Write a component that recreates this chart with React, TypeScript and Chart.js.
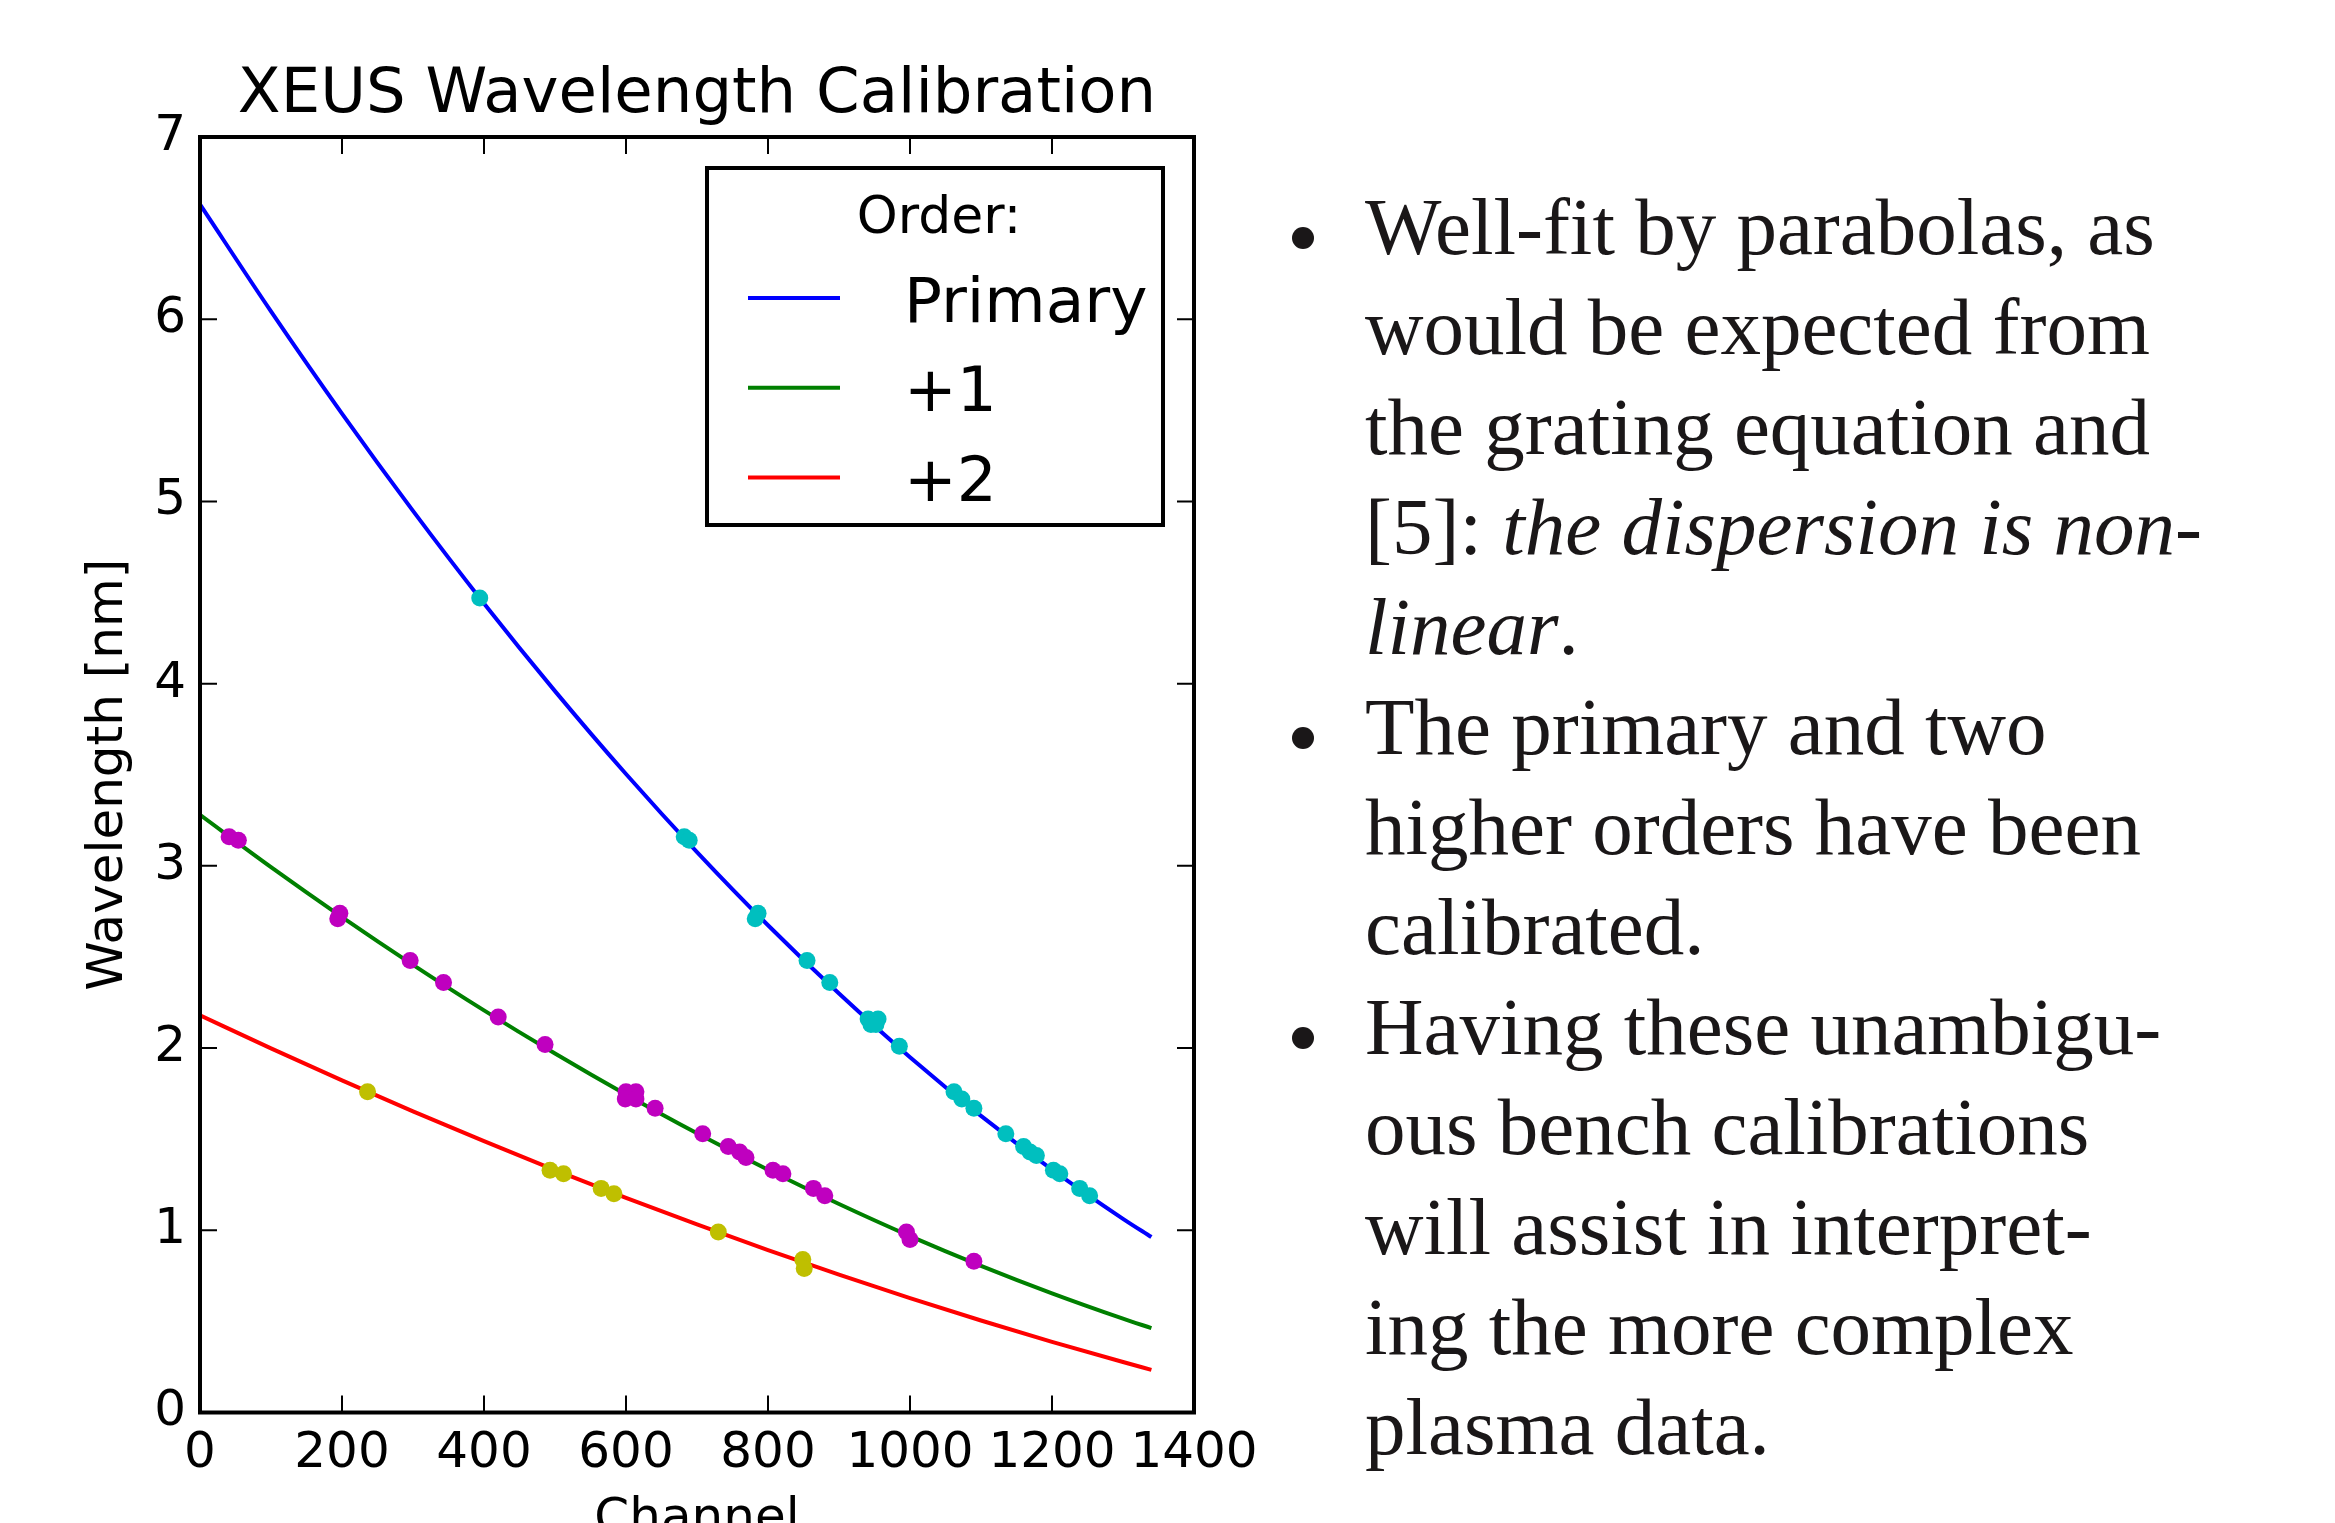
import React, { useEffect, useRef } from "react";
import { Chart, registerables } from "chart.js";

Chart.register(...registerables);

// ---------- data ----------
const chartTitle = "XEUS Wavelength Calibration";
const xAxisTitle = "Channel";
const yAxisTitle = "Wavelength [nm]";
const legendTitle = "Order:";

const xTickValues = [0, 200, 400, 600, 800, 1000, 1200, 1400];
const yTickValues = [0, 1, 2, 3, 4, 5, 6, 7];

// fitted curves, sampled along the channel axis
const curveChannels = [0, 100, 200, 300, 400, 500, 600, 700, 800, 900, 1000, 1100, 1200, 1300, 1340];
const primaryCurve = [6.63, 6.043, 5.482, 4.948, 4.44, 3.959, 3.504, 3.076, 2.674, 2.299, 1.95, 1.628, 1.333, 1.063, 0.963];
const plusOneCurve = [3.28, 2.993, 2.719, 2.457, 2.207, 1.97, 1.745, 1.532, 1.332, 1.144, 0.968, 0.805, 0.654, 0.515, 0.463];
const plusTwoCurve = [2.18, 1.998, 1.823, 1.653, 1.489, 1.33, 1.178, 1.032, 0.891, 0.757, 0.628, 0.505, 0.388, 0.277, 0.234];

// measured calibration lines
const primaryChannels = [394, 682, 689, 786, 782, 855, 887, 941, 955, 945, 952, 985, 1062, 1073, 1090, 1135, 1160, 1169, 1178, 1202, 1211, 1239, 1253];
const primaryWavelengths = [4.47, 3.16, 3.14, 2.74, 2.71, 2.48, 2.36, 2.16, 2.16, 2.13, 2.13, 2.01, 1.76, 1.72, 1.67, 1.53, 1.46, 1.43, 1.41, 1.33, 1.31, 1.23, 1.19];

const plusOneChannels = [41, 54, 197, 194, 296, 343, 420, 486, 600, 614, 599, 614, 641, 708, 744, 760, 769, 807, 821, 864, 880, 995, 1000, 1090];
const plusOneWavelengths = [3.16, 3.14, 2.74, 2.71, 2.48, 2.36, 2.17, 2.02, 1.76, 1.76, 1.72, 1.72, 1.67, 1.53, 1.46, 1.43, 1.4, 1.33, 1.31, 1.23, 1.19, 0.99, 0.95, 0.83];

const plusTwoChannels = [236, 493, 512, 565, 583, 730, 849, 851];
const plusTwoWavelengths = [1.76, 1.33, 1.31, 1.23, 1.2, 0.99, 0.84, 0.79];

const seriesLabels = ["Primary", "+1", "+2"];

// ---------- slide text ----------
type Part = { t: string; i?: boolean };
type Line = { bullet?: boolean; parts: Part[] };
const textLines: Line[] = [
  { bullet: true, parts: [{ t: "Well-fit by parabolas, as" }] },
  { parts: [{ t: "would be expected from" }] },
  { parts: [{ t: "the grating equation and" }] },
  { parts: [{ t: "[5]: " }, { t: "the dispersion is non-", i: true }] },
  { parts: [{ t: "linear", i: true }, { t: "." }] },
  { bullet: true, parts: [{ t: "The primary and two" }] },
  { parts: [{ t: "higher orders have been" }] },
  { parts: [{ t: "calibrated." }] },
  { bullet: true, parts: [{ t: "Having these unambigu-" }] },
  { parts: [{ t: "ous bench calibrations" }] },
  { parts: [{ t: "will assist in interpret-" }] },
  { parts: [{ t: "ing the more complex" }] },
  { parts: [{ t: "plasma data." }] },
];

const FONT = "'DejaVu Sans'";

const framePlugin = {
  id: "mplFrame",
  afterDatasetsDraw(chart: any) {
    const { ctx, chartArea: a, scales } = chart;
    const tl = 17;
    ctx.save();
    ctx.strokeStyle = "#000";
    ctx.lineWidth = 2;
    ctx.beginPath();
    scales.x.ticks.forEach((t: any) => {
      const px = scales.x.getPixelForValue(t.value);
      ctx.moveTo(px, a.bottom);
      ctx.lineTo(px, a.bottom - tl);
      ctx.moveTo(px, a.top);
      ctx.lineTo(px, a.top + tl);
    });
    scales.y.ticks.forEach((t: any) => {
      const py = scales.y.getPixelForValue(t.value);
      ctx.moveTo(a.left, py);
      ctx.lineTo(a.left + tl, py);
      ctx.moveTo(a.right, py);
      ctx.lineTo(a.right - tl, py);
    });
    ctx.stroke();
    ctx.lineWidth = 4;
    ctx.strokeRect(a.left, a.top, a.right - a.left, a.bottom - a.top);
    ctx.restore();
  },
};

const legendPlugin = {
  id: "orderLegend",
  afterDraw(chart: any) {
    const { ctx, chartArea: a } = chart;
    const w = 456;
    const h = 357;
    const left = a.right - 31 - w;
    const top = a.top + 31;
    ctx.save();
    ctx.fillStyle = "#fff";
    ctx.fillRect(left, top, w, h);
    ctx.lineWidth = 4;
    ctx.strokeStyle = "#000";
    ctx.strokeRect(left, top, w, h);
    ctx.fillStyle = "#000";
    ctx.textAlign = "center";
    ctx.textBaseline = "alphabetic";
    ctx.font = `52px ${FONT}`;
    ctx.fillText(legendTitle, left + 232, top + 64.5);
    const items = chart.data.datasets.filter((d: any) => d.type === "line");
    items.forEach((d: any, i: number) => {
      const y = top + 130 + i * 89.7;
      ctx.strokeStyle = d.borderColor;
      ctx.lineWidth = 4;
      ctx.beginPath();
      ctx.moveTo(left + 41, y);
      ctx.lineTo(left + 133, y);
      ctx.stroke();
      ctx.font = `63px ${FONT}`;
      ctx.textAlign = "left";
      ctx.fillStyle = "#000";
      ctx.fillText(d.label, left + 197, y + 23.5);
    });
    ctx.restore();
  },
};

function scatterSet(label: string, xs: number[], ys: number[], color: string) {
  return {
    type: "scatter" as const,
    label,
    data: xs.map((x, i) => ({ x, y: ys[i] })),
    backgroundColor: color,
    borderColor: color,
    borderWidth: 0,
    pointRadius: 8.5,
    pointHoverRadius: 8.5,
    showLine: false,
  };
}

function lineSet(label: string, ys: number[], color: string) {
  return {
    type: "line" as const,
    label,
    data: curveChannels.map((x, i) => ({ x, y: ys[i] })),
    borderColor: color,
    backgroundColor: color,
    borderWidth: 4,
    pointRadius: 0,
    pointHoverRadius: 0,
    cubicInterpolationMode: "monotone" as const,
    fill: false,
  };
}

export default function App() {
  const ref = useRef<HTMLCanvasElement>(null);

  useEffect(() => {
    document.body.style.margin = "0";
    document.body.style.overflow = "hidden";
    const canvas = ref.current!;
    Chart.defaults.font.family = FONT;
    Chart.defaults.color = "#000";
    const chart = new Chart(canvas, {
      type: "scatter",
      data: {
        datasets: [
          scatterSet("primary lines", primaryChannels, primaryWavelengths, "#00BFBF"),
          scatterSet("+1 lines", plusOneChannels, plusOneWavelengths, "#BF00BF"),
          scatterSet("+2 lines", plusTwoChannels, plusTwoWavelengths, "#BFBF00"),
          lineSet(seriesLabels[0], primaryCurve, "#0000FF"),
          lineSet(seriesLabels[1], plusOneCurve, "#008000"),
          lineSet(seriesLabels[2], plusTwoCurve, "#FF0000"),
        ] as any,
      },
      options: {
        responsive: false,
        animation: false,
        devicePixelRatio: 1,
        events: [],
        layout: { padding: 0 },
        plugins: {
          legend: { display: false },
          tooltip: { enabled: false },
          title: {
            display: true,
            text: chartTitle,
            color: "#000",
            font: { family: FONT, size: 62.5, weight: "normal", lineHeight: 1.2 },
            padding: { top: 58, bottom: 4 },
          },
        },
        scales: {
          x: {
            type: "linear",
            min: 0,
            max: 1400,
            afterBuildTicks: (s: any) => {
              s.ticks = xTickValues.map((v) => ({ value: v }));
            },
            afterFit: (s: any) => {
              s.height = 110.5;
            },
            grid: { display: false, drawTicks: false },
            border: { display: false },
            ticks: {
              font: { family: FONT, size: 50 },
              color: "#000",
              padding: 12,
              maxRotation: 0,
              autoSkip: false,
              callback: (v: any) => String(v),
            },
            title: {
              display: true,
              text: xAxisTitle,
              color: "#000",
              font: { family: FONT, size: 50, lineHeight: 1.2 },
              padding: { top: 0, bottom: -27 },
            },
          },
          y: {
            type: "linear",
            position: "left",
            min: 0,
            max: 7,
            afterBuildTicks: (s: any) => {
              s.ticks = yTickValues.map((v) => ({ value: v }));
            },
            afterFit: (s: any) => {
              s.width = 200;
            },
            grid: { display: false, drawTicks: false },
            border: { display: false },
            ticks: {
              font: { family: FONT, size: 50 },
              color: "#000",
              padding: 14,
              autoSkip: false,
              callback: (v: any) => String(v),
            },
            title: {
              display: true,
              text: yAxisTitle,
              color: "#000",
              font: { family: FONT, size: 50, lineHeight: 1.2 },
              padding: { top: 79, bottom: 0 },
            },
          },
          yRight: {
            type: "linear",
            position: "right",
            min: 0,
            max: 7,
            display: true,
            afterFit: (s: any) => {
              s.width = 200;
            },
            grid: { display: false, drawTicks: false },
            border: { display: false },
            ticks: { display: false },
          },
        },
      } as any,
      plugins: [framePlugin, legendPlugin],
    });
    return () => chart.destroy();
  }, []);

  const lineTop0 = 176.7;
  const lineStep = 100;
  const bulletSize = 22;

  return (
    <div
      style={{
        position: "fixed",
        left: 0,
        top: 0,
        width: 2335,
        height: 1523,
        background: "#fff",
        overflow: "hidden",
      }}
    >
      <canvas
        ref={ref}
        width={1394}
        height={1523}
        style={{ position: "absolute", left: 0, top: 0, width: 1394, height: 1523 }}
      />
      <div
        style={{
          position: "absolute",
          left: 0,
          top: 0,
          fontFamily: "'Liberation Serif', serif",
          fontSize: 81,
          lineHeight: "100px",
          color: "#1a1718",
        }}
      >
        {textLines.map((ln, idx) => (
          <React.Fragment key={idx}>
            {ln.bullet && (
              <div
                style={{
                  position: "absolute",
                  left: 1303 - bulletSize / 2,
                  top: 238 + idx * lineStep - bulletSize / 2,
                  width: bulletSize,
                  height: bulletSize,
                  borderRadius: "50%",
                  background: "#1a1718",
                }}
              />
            )}
            <div
              style={{
                position: "absolute",
                left: 1365,
                top: lineTop0 + idx * lineStep,
                whiteSpace: "nowrap",
              }}
            >
              {ln.parts.map((p, j) => (
                <span key={j} style={{ fontStyle: p.i ? "italic" : "normal" }}>
                  {p.t}
                </span>
              ))}
            </div>
          </React.Fragment>
        ))}
      </div>
    </div>
  );
}
